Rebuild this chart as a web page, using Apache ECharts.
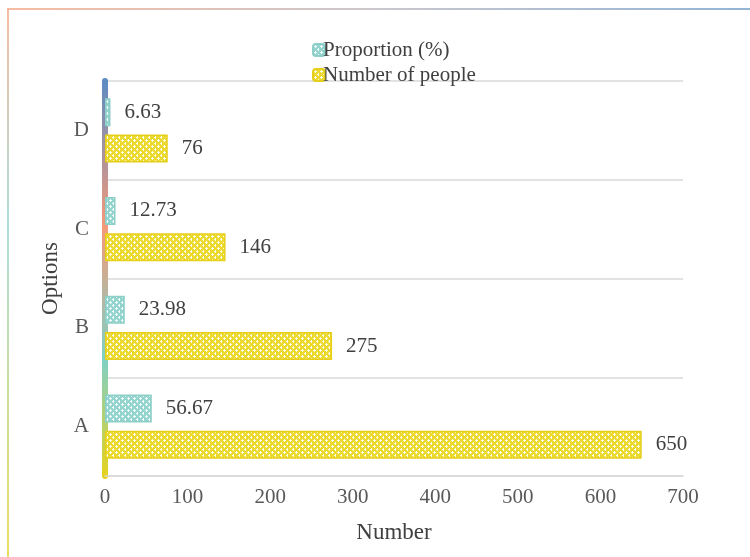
<!DOCTYPE html>
<html>
<head>
<meta charset="utf-8">
<script src="https://cdn.jsdelivr.net/npm/echarts@6/dist/echarts.min.js"></script>
<style>
    html, body { margin: 0; padding: 0; background: #fff; }
    #chart { width: 750px; height: 557px; }
</style>
</head>
<body>
<div id="chart"></div>
<script>
    var categories = ['A', 'B', 'C', 'D'];
    var proportion = [56.67, 23.98, 12.73, 6.63];
    var people = [650, 275, 146, 76];
    var xTicks = [0, 100, 200, 300, 400, 500, 600, 700];

    var SERIF = '"Liberation Serif", "Times New Roman", serif';

    // small tile with white crosses, like the excel pattern fill
    function makePattern(bg) {
        var c = document.createElement('canvas');
        c.width = 6;
        c.height = 6;
        var ctx = c.getContext('2d');
        ctx.fillStyle = bg;
        ctx.fillRect(0, 0, 6, 6);
        ctx.fillStyle = 'rgba(255,255,255,0.85)';
        ctx.fillRect(2, 1, 1, 3);
        ctx.fillRect(1, 2, 3, 1);
        ctx.fillRect(5, 4, 1, 3);
        ctx.fillRect(4, 5, 3, 1);
        ctx.fillRect(5, 0, 1, 1);
        return c;
    }

    var chart = echarts.init(document.getElementById('chart'));
    var option = {
        animation: false,
        backgroundColor: '#fff',
        legend: {
            orient: 'vertical',
            left: 307,
            top: 34,
            itemWidth: 12,
            itemHeight: 12,
            itemGap: 3,
            data: ['Proportion (%)', 'Number of people'],
            textStyle: {
                fontFamily: SERIF,
                fontSize: 21,
                color: '#404040',
                lineHeight: 22,
                padding: [0, 0, 0, -7]
            }
        },
        grid: {
            left: 105,
            right: 67,
            top: 81,
            bottom: 81
        },
        xAxis: {
            type: 'value',
            min: xTicks[0],
            max: xTicks[xTicks.length - 1],
            interval: 100,
            name: 'Number',
            nameLocation: 'middle',
            nameGap: 45,
            nameTextStyle: { fontFamily: SERIF, fontSize: 23, color: '#404040' },
            axisLine: { show: true, lineStyle: { color: '#d9d9d9', width: 1.5 } },
            axisTick: { show: false },
            splitLine: { show: false },
            axisLabel: { fontFamily: SERIF, fontSize: 21, color: '#595959', margin: 11 }
        },
        yAxis: {
            type: 'category',
            data: categories,
            name: 'Options',
            nameLocation: 'middle',
            nameGap: 42,
            nameTextStyle: { fontFamily: SERIF, fontSize: 23, color: '#404040' },
            axisLine: {
                show: true,
                lineStyle: {
                    width: 6,
                    color: new echarts.graphic.LinearGradient(0, 0, 0, 1, [
                        { offset: 0, color: '#5b8cc4' },
                        { offset: 0.37, color: '#f59a78' },
                        { offset: 0.7, color: '#7fd0c6' },
                        { offset: 1, color: '#e8d21c' }
                    ])
                }
            },
            axisTick: { show: false },
            splitLine: { show: true, lineStyle: { color: '#d9d9d9', width: 1.5 } },
            axisLabel: { fontFamily: SERIF, fontSize: 21, color: '#595959', margin: 16 }
        },
        series: [
            {
                name: 'Proportion (%)',
                type: 'bar',
                data: proportion,
                barWidth: 28,
                barGap: '30%',
                itemStyle: {
                    color: { image: makePattern('#93d5ce'), repeat: 'repeat' },
                    borderColor: '#8dcfc8',
                    borderWidth: 1.5
                },
                label: {
                    show: true,
                    position: 'right',
                    distance: 14,
                    fontFamily: SERIF,
                    fontSize: 21,
                    color: '#404040'
                }
            },
            {
                name: 'Number of people',
                type: 'bar',
                data: people,
                barWidth: 28,
                barGap: '30%',
                itemStyle: {
                    color: { image: makePattern('#ecd92e'), repeat: 'repeat' },
                    borderColor: '#e6cf1a',
                    borderWidth: 1.5
                },
                label: {
                    show: true,
                    position: 'right',
                    distance: 14,
                    fontFamily: SERIF,
                    fontSize: 21,
                    color: '#404040'
                }
            }
        ],
        graphic: [
            {
                type: 'line',
                silent: true,
                shape: { x1: 7, y1: 9, x2: 750, y2: 9 },
                style: {
                    lineWidth: 1.5,
                    stroke: new echarts.graphic.LinearGradient(0, 0, 1, 0, [
                        { offset: 0, color: '#f4a582' },
                        { offset: 0.5, color: '#b8b4bc' },
                        { offset: 1, color: '#6f9bc8' }
                    ])
                }
            },
            {
                type: 'line',
                silent: true,
                shape: { x1: 8, y1: 9, x2: 8, y2: 557 },
                style: {
                    lineWidth: 1.5,
                    stroke: new echarts.graphic.LinearGradient(0, 0, 0, 1, [
                        { offset: 0, color: '#f4a582' },
                        { offset: 0.4, color: '#8fd3cc' },
                        { offset: 1, color: '#e6d22a' }
                    ])
                }
            }
        ]
    };
    chart.setOption(option);
</script>
</body>
</html>
